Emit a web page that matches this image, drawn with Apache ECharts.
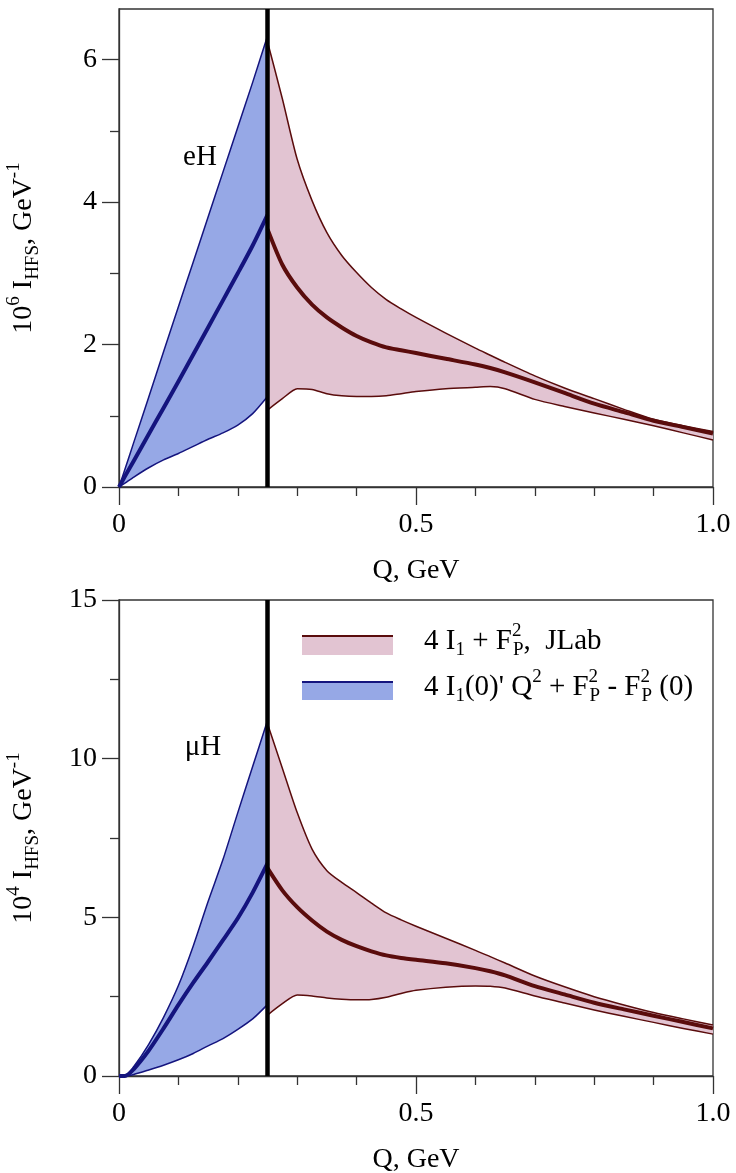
<!DOCTYPE html>
<html>
<head>
<meta charset="utf-8">
<title>I_HFS vs Q</title>
<script src="https://cdn.jsdelivr.net/npm/echarts@6/dist/echarts.min.js"></script>
<style>
html, body { margin: 0; padding: 0; background: #fff; }
#chart { width: 736px; height: 1173px; }
</style>
</head>
<body>
<div id="chart"></div>
<script>
// Q values, GeV
const blueQ = [0, 0.01, 0.025, 0.05, 0.075, 0.1, 0.125, 0.15, 0.175, 0.2, 0.225, 0.25];
const redQ = [0.25, 0.275, 0.3, 0.325, 0.35, 0.375, 0.4, 0.425, 0.45, 0.475, 0.5, 0.55, 0.6, 0.625, 0.65, 0.7, 0.75, 0.8, 0.85, 0.9, 0.95, 1.0];
const cutQ = 0.25;

// eH, 10^6 I_HFS
const eBlueUp  = [0, 0.25, 0.63, 1.26, 1.9, 2.53, 3.16, 3.79, 4.42, 5.05, 5.68, 6.33];
const eBlueMid = [0, 0.15, 0.37, 0.74, 1.11, 1.48, 1.86, 2.24, 2.62, 3.0, 3.39, 3.82];
const eBlueLow = [0, 0.055, 0.14, 0.27, 0.38, 0.47, 0.57, 0.67, 0.76, 0.87, 1.03, 1.27];
const eRedUp  = [6.25, 5.45, 4.6, 4.02, 3.57, 3.25, 3.01, 2.8, 2.63, 2.5, 2.38, 2.16, 1.95, 1.85, 1.75, 1.56, 1.39, 1.24, 1.09, 0.95, 0.86, 0.78];
const eRedMid = [3.62, 3.12, 2.8, 2.56, 2.38, 2.24, 2.12, 2.03, 1.96, 1.92, 1.88, 1.8, 1.72, 1.67, 1.61, 1.47, 1.32, 1.17, 1.05, 0.93, 0.84, 0.75];
const eRedLow = [1.08, 1.24, 1.38, 1.37, 1.31, 1.28, 1.27, 1.27, 1.28, 1.31, 1.34, 1.38, 1.4, 1.41, 1.38, 1.23, 1.13, 1.04, 0.95, 0.86, 0.76, 0.66];

// muH, 10^4 I_HFS
const muBlueUp  = [0, 0, 0.3, 1.0, 1.85, 2.85, 4.1, 5.5, 6.82, 8.3, 9.75, 11.2];
const muBlueMid = [0, 0, 0.22, 0.8, 1.5, 2.24, 2.94, 3.6, 4.28, 4.97, 5.78, 6.7];
const muBlueLow = [0, 0, 0.05, 0.19, 0.34, 0.51, 0.71, 0.95, 1.18, 1.47, 1.8, 2.25];
const muRedUp  = [11.1, 9.7, 8.3, 7.15, 6.47, 6.1, 5.78, 5.45, 5.14, 4.92, 4.72, 4.34, 3.96, 3.76, 3.56, 3.15, 2.81, 2.5, 2.24, 2.0, 1.8, 1.61];
const muRedMid = [6.55, 5.85, 5.32, 4.9, 4.55, 4.29, 4.09, 3.93, 3.8, 3.72, 3.66, 3.55, 3.4, 3.3, 3.17, 2.83, 2.57, 2.31, 2.1, 1.9, 1.7, 1.5];
const muRedLow = [1.92, 2.28, 2.55, 2.52, 2.46, 2.42, 2.4, 2.41, 2.48, 2.6, 2.7, 2.8, 2.84, 2.83, 2.77, 2.52, 2.3, 2.08, 1.88, 1.69, 1.5, 1.32];

// axis ticks
const eYTicks = [0, 2, 4, 6];
const eYMinor = [1, 3, 5];
const eYMax = 6.71;
const muYMax = 15;

const FONT = "'Liberation Serif', 'DejaVu Serif', serif";
const BLUE_FILL = '#96a8e6', BLUE_LINE = '#14147e';
const RED_FILL = '#e2c4d2', RED_LINE = '#5a0c0c';
const AXIS = '#333';

const chart = echarts.init(document.getElementById('chart'));

function zip(q, v) { return q.map((x, i) => [x, v[i]]); }

// filled band between two curves, drawn through the axes' coord()
function band(g, yi, q, up, low, color) {
    return {
        type: 'custom', xAxisIndex: g, yAxisIndex: yi, silent: true, z: 1,
        data: [[q[0], low[0]]],
        renderItem: function (params, api) {
            const pts = [];
            for (let i = 0; i < q.length; i++) pts.push(api.coord([q[i], up[i]]));
            for (let i = q.length - 1; i >= 0; i--) pts.push(api.coord([q[i], low[i]]));
            return { type: 'polygon', shape: { points: pts }, style: { fill: color, stroke: null } };
        }
    };
}

function line(g, yi, q, v, color, w, smooth) {
    return {
        type: 'line', xAxisIndex: g, yAxisIndex: yi, data: zip(q, v),
        symbol: 'none', silent: true, z: 3,
        smooth: smooth ? 0.25 : false,
        lineStyle: { color: color, width: w, join: 'round' }
    };
}

function panel(g, yi, ymax, d) {
    return [
        band(g, yi, blueQ, d.bu, d.bl, BLUE_FILL),
        band(g, yi, redQ, d.ru, d.rl, RED_FILL),
        line(g, yi, blueQ, d.bu, BLUE_LINE, 1.5, true),
        line(g, yi, blueQ, d.bl, BLUE_LINE, 1.5, true),
        line(g, yi, blueQ, d.bm, BLUE_LINE, 4, true),
        line(g, yi, redQ, d.ru, RED_LINE, 1.5, true),
        line(g, yi, redQ, d.rl, RED_LINE, 1.5, true),
        line(g, yi, redQ, d.rm, RED_LINE, 4, true),
        line(g, yi, [cutQ, cutQ], [0, ymax], '#000', 4.5, false)
    ];
}

function xAxis(g) {
    return {
        type: 'value', gridIndex: g, min: 0, max: 1, interval: 0.5,
        axisLine: { lineStyle: { color: AXIS, width: 1.3 } },
        axisTick: { length: 18, lineStyle: { color: AXIS, width: 1.3 } },
        minorTick: { show: true, splitNumber: 5, length: 9, lineStyle: { color: AXIS, width: 1.3 } },
        splitLine: { show: false },
        axisLabel: {
            fontSize: 28, fontFamily: FONT, color: '#000', margin: 24,
            formatter: v => (v === 0 ? '0' : v.toFixed(1))
        },
        name: 'Q, GeV', nameLocation: 'middle', nameGap: 70,
        nameTextStyle: { fontSize: 28, fontFamily: FONT, color: '#000' }
    };
}

function yName(p) {
    return '{b|10}{sup|' + p + '}{b| I}{sub|HFS}{b|, GeV}{sup|-1}';
}
const nameRich = {
    b: { fontSize: 28, fontFamily: FONT, color: '#000', lineHeight: 38 },
    sup: { fontSize: 19, fontFamily: FONT, color: '#000', verticalAlign: 'top', lineHeight: 19 },
    sub: { fontSize: 19, fontFamily: FONT, color: '#000', verticalAlign: 'bottom', lineHeight: 19 }
};

const yLabelStyle = { fontSize: 28, fontFamily: FONT, color: '#000', margin: 22 };

chart.setOption({
    animation: false,
    backgroundColor: '#fff',
    grid: [
        { left: 119, top: 9, width: 594, height: 478, show: true, borderColor: AXIS, borderWidth: 1.3, outerBoundsMode: 'none' },
        { left: 119, top: 600, width: 594, height: 476, show: true, borderColor: AXIS, borderWidth: 1.3, outerBoundsMode: 'none' }
    ],
    xAxis: [xAxis(0), xAxis(1)],
    yAxis: [
        {
            type: 'value', gridIndex: 0, min: 0, max: eYMax, position: 'left',
            axisLine: { show: true, lineStyle: { color: AXIS, width: 1.3 } },
            axisTick: { show: true, length: 17, customValues: eYTicks, lineStyle: { color: AXIS, width: 1.3 } },
            axisLabel: Object.assign({ customValues: eYTicks }, yLabelStyle),
            splitLine: { show: false },
            name: yName(6), nameLocation: 'middle', nameGap: 76, nameRotate: 90,
            nameTextStyle: { rich: nameRich }
        },
        {
            type: 'value', gridIndex: 0, min: 0, max: eYMax, position: 'left', offset: 0,
            axisLine: { show: false },
            axisTick: { show: true, length: 9, customValues: eYMinor, lineStyle: { color: AXIS, width: 1.3 } },
            axisLabel: { show: false },
            splitLine: { show: false }
        },
        {
            type: 'value', gridIndex: 1, min: 0, max: muYMax, interval: 5, position: 'left',
            axisLine: { show: true, lineStyle: { color: AXIS, width: 1.3 } },
            axisTick: { show: true, length: 17, lineStyle: { color: AXIS, width: 1.3 } },
            minorTick: { show: true, splitNumber: 2, length: 9, lineStyle: { color: AXIS, width: 1.3 } },
            axisLabel: yLabelStyle,
            splitLine: { show: false },
            name: yName(4), nameLocation: 'middle', nameGap: 76, nameRotate: 90,
            nameTextStyle: { rich: nameRich }
        }
    ],
    series: [].concat(
        panel(0, 0, eYMax, { bu: eBlueUp, bm: eBlueMid, bl: eBlueLow, ru: eRedUp, rm: eRedMid, rl: eRedLow }),
        panel(1, 2, muYMax, { bu: muBlueUp, bm: muBlueMid, bl: muBlueLow, ru: muRedUp, rm: muRedMid, rl: muRedLow })
    ),
    graphic: [
        { type: 'text', x: 200, y: 157, style: { text: 'eH', fontSize: 29, fontFamily: FONT, fill: '#000', align: 'center', verticalAlign: 'middle' } },
        { type: 'text', x: 203, y: 747, style: { text: 'μH', fontSize: 29, fontFamily: FONT, fill: '#000', align: 'center', verticalAlign: 'middle' } },
        // legend swatches
        { type: 'rect', shape: { x: 302, y: 636, width: 91, height: 19 }, style: { fill: RED_FILL } },
        { type: 'line', shape: { x1: 302, y1: 636, x2: 393, y2: 636 }, style: { stroke: RED_LINE, lineWidth: 2 } },
        { type: 'rect', shape: { x: 302, y: 682, width: 91, height: 18 }, style: { fill: BLUE_FILL } },
        { type: 'line', shape: { x1: 302, y1: 682, x2: 393, y2: 682 }, style: { stroke: BLUE_LINE, lineWidth: 2 } },
        {
            type: 'text', x: 424, y: 641,
            style: {
                text: '{b|4 I}{sub|1}{b| + F}{supw|2}{sub|P}{b|,  JLab}',
                verticalAlign: 'middle',
                rich: {
                    b: { fontSize: 29, fontFamily: FONT, fill: '#000', lineHeight: 38 },
                    sub: { fontSize: 19, fontFamily: FONT, fill: '#000', verticalAlign: 'bottom', lineHeight: 19 },
                    supw: { fontSize: 19, fontFamily: FONT, fill: '#000', verticalAlign: 'top', lineHeight: 19, width: 1 }
                }
            }
        },
        {
            type: 'text', x: 424, y: 687,
            style: {
                text: "{b|4 I}{sub|1}{b|(0)' Q}{sup|2}{b| + F}{supw|2}{sub|P}{b| - F}{supw|2}{sub|P}{b| (0)}",
                verticalAlign: 'middle',
                rich: {
                    b: { fontSize: 29, fontFamily: FONT, fill: '#000', lineHeight: 38 },
                    sub: { fontSize: 19, fontFamily: FONT, fill: '#000', verticalAlign: 'bottom', lineHeight: 19 },
                    sup: { fontSize: 19, fontFamily: FONT, fill: '#000', verticalAlign: 'top', lineHeight: 19 },
                    supw: { fontSize: 19, fontFamily: FONT, fill: '#000', verticalAlign: 'top', lineHeight: 19, width: 1 }
                }
            }
        }
    ]
});
</script>
</body>
</html>
